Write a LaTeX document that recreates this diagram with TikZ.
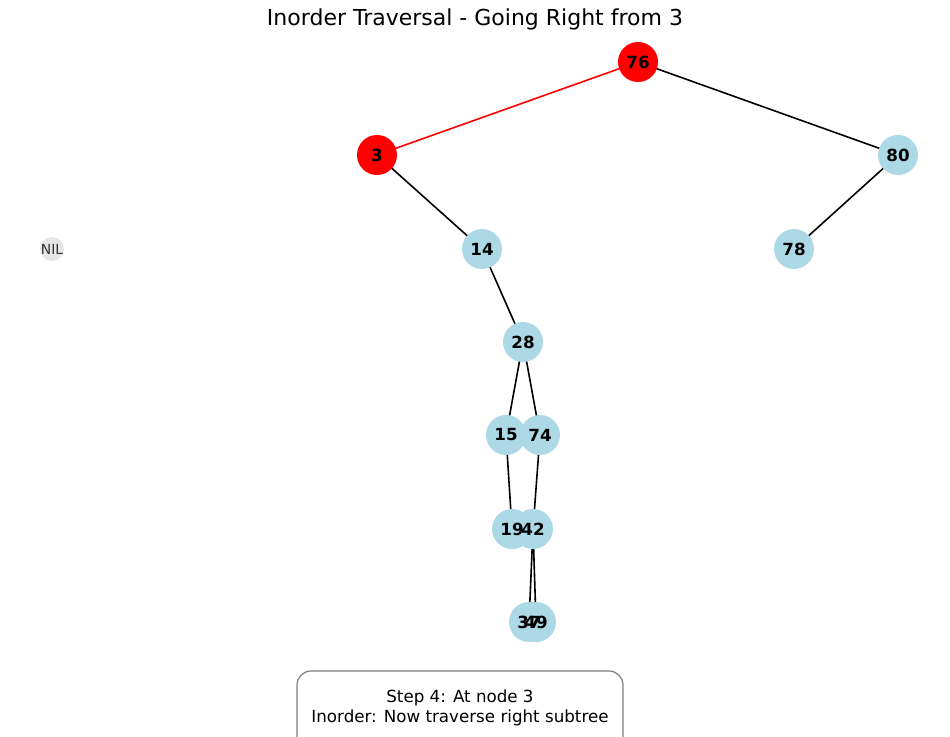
\documentclass[tikz,border=0pt]{standalone}
\usepackage{fontspec}
\setmainfont{DejaVu Sans}
\definecolor{lb}{HTML}{ADD8E6}
\definecolor{nilc}{HTML}{E6E6E6}
\begin{document}
\begin{tikzpicture}[x=1pt,y=-1pt,
  tn/.style={circle,fill=lb,minimum size=40pt,inner sep=0pt},
  rn/.style={circle,fill=red,minimum size=40pt,inner sep=0pt},
  lbl/.style={font=\fontsize{16.7}{19}\selectfont\bfseries,inner sep=0pt},
  edge/.style={line width=1.6pt,black},
  redge/.style={line width=1.6pt,red}]
\useasboundingbox (0,0) rectangle (950,736);
\node[font=\fontsize{22}{26}\selectfont] (title) at (475,19) {Inorder Traversal - Going Right from 3};
% coordinates
\coordinate (p76) at (638,62);
\coordinate (p3) at (377,155);
\coordinate (p80) at (898,155);
\coordinate (p14) at (482,249);
\coordinate (p78) at (794,249);
\coordinate (p28) at (523,342);
\coordinate (p15) at (506,435);
\coordinate (p74) at (540,435);
\coordinate (p19) at (512,529);
\coordinate (p42) at (533,529);
\coordinate (p37) at (529,622);
\coordinate (p49) at (536,622);
% edges
\draw[redge] (p76) -- (p3);
\draw[edge] (p76) -- (p80);
\draw[edge] (p3) -- (p14);
\draw[edge] (p80) -- (p78);
\draw[edge] (p14) -- (p28);
\draw[edge] (p28) -- (p15);
\draw[edge] (p28) -- (p74);
\draw[edge] (p15) -- (p19);
\draw[edge] (p74) -- (p42);
\draw[edge] (p42) -- (p37);
\draw[edge] (p42) -- (p49);
% nodes
\node[rn] (n76) at (p76) {};
\node[rn] (n3) at (p3) {};
\node[tn] (n80) at (p80) {};
\node[tn] (n14) at (p14) {};
\node[tn] (n78) at (p78) {};
\node[tn] (n28) at (p28) {};
\node[tn] (n15) at (p15) {};
\node[tn] (n74) at (p74) {};
\node[tn] (n19) at (p19) {};
\node[tn] (n42) at (p42) {};
\node[tn] (n37) at (p37) {};
\node[tn] (n49) at (p49) {};
\node[circle,fill=nilc,minimum size=24pt,inner sep=0pt] (nil) at (52,249) {};
% labels
\node[lbl] (l76) at (p76) {76};
\node[lbl] (l3) at (p3) {3};
\node[lbl] (l80) at (p80) {80};
\node[lbl] (l14) at (p14) {14};
\node[lbl] (l78) at (p78) {78};
\node[lbl] (l28) at (p28) {28};
\node[lbl] (l15) at (p15) {15};
\node[lbl] (l74) at (p74) {74};
\node[lbl] (l19) at (p19) {19};
\node[lbl] (l42) at (p42) {42};
\node[lbl] (l37) at (p37) {37};
\node[lbl] (l49) at (p49) {49};
\node[font=\fontsize{13.9}{16}\selectfont,text=black!80,inner sep=0pt] (lnil) at (52,249) {NIL};
% info box
\draw[draw=gray,line width=1.2pt,fill=white,rounded corners=14pt] (297,671) rectangle (623,760);
\node[font=\fontsize{16.7}{20}\selectfont,align=center] (info) at (460,708) {Step 4: At node 3\\Inorder: Now traverse right subtree};
\end{tikzpicture}
\end{document}
